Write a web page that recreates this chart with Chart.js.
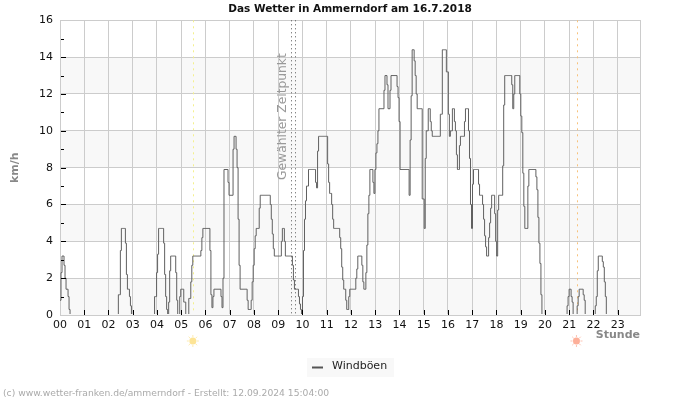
<!DOCTYPE html>
<html>
<head>
<meta charset="utf-8">
<title>Das Wetter in Ammerndorf</title>
<script src="https://cdn.jsdelivr.net/npm/chart.js@4"></script>
<style>
  html, body { margin: 0; padding: 0; background: #fff; }
  canvas { display: block; }
</style>
</head>
<body>
<canvas id="chart" width="700" height="400"></canvas>
<script>
// Gust values in km/h, one row per hour, about 2.5 minute steps
const hour00 = [0.8,2.3,3.2,3.2,2.7,2,1.4,1.4,1,0.3,0,0,0,0,0,0,0,0,0,0,0,0,0,0];
const hour01 = [0,0,0,0,0,0,0,0,0,0,0,0,0,0,0,0,0,0,0,0,0,0,0,0];
const hour02 = [0,0,0,0,0,0,0,0,0,0,1.1,1.1,3.5,4.7,4.7,4.7,4.7,3.9,2.2,1.4,1.4,1,0.5,0];
const hour03 = [0,0,0,0,0,0,0,0,0,0,0,0,0,0,0,0,0,0,0,0,0,0,1,1];
const hour04 = [2.3,3.3,4.7,4.7,4.7,4.7,4.7,3.9,2.2,1,0.3,0,0.7,2.4,3.2,3.2,3.2,3.2,3.2,2.3,0.8,0,0,1];
const hour05 = [1.4,1.4,1.4,0.7,0.7,0,0,0,0.9,0.9,1.8,2.7,3.2,3.2,3.2,3.2,3.2,3.2,3.2,3.2,3.5,4.2,4.7,4.7];
const hour06 = [4.7,4.7,4.7,4.7,4.7,3.5,1.1,0.4,1,1.4,1.4,1.4,1.4,1.4,1.4,1.4,1,0.4,2,7.9,7.9,7.9,7.9,7.2];
const hour07 = [6.5,6.5,6.5,6.5,9,9.7,9.7,9,8,5.2,2.7,1.4,1.4,1.4,1.4,1.4,1.4,1.4,0.8,0.3,0.3,0.3,0.8,1.8];
const hour08 = [2.7,3.6,4.3,4.7,4.7,4.7,5.8,6.5,6.5,6.5,6.5,6.5,6.5,6.5,6.5,6.5,6.5,6,5.2,4.4,3.6,3.2,3.2,3.2];
const hour09 = [3.2,3.2,3.2,3.2,4,4.7,4.7,4,3.2,3.2,3.2,3.2,3.2,3.2,3.2,2.7,1.9,1.4,1.4,1.4,1.4,1,0.6,0.3];
const hour10 = [0,1,3.5,5.2,6.2,7,7,7.9,7.9,7.9,7.9,7.9,7.9,7.9,7.2,6.9,8.9,9.7,9.7,9.7,9.7,9.7,9.7,9.7];
const hour11 = [9.7,9.7,8.2,7.2,6.6,6.6,6,5.2,4.7,4.7,4.7,4.7,4.7,4.7,4.2,3.6,2.6,1.9,1.4,1.4,0.8,0.3,0.3,1];
const hour12 = [1.4,1.4,1.4,1.4,1.4,1.4,2,2.5,3.2,3.2,3.2,3.2,2.7,1.8,1.4,1.4,2.3,3.8,5.5,6.5,7.9,7.9,7.9,7.2];
const hour13 = [6.6,7.9,8.8,9.3,10,11.2,11.2,11.2,11.2,11.2,12.2,13,13,12.5,11.2,11.2,12.2,13,13,13,13,13,13,12.4];
const hour14 = [11.8,10.5,7.9,7.9,7.9,7.9,7.9,7.9,7.9,7.9,7.9,6.5,9.5,11.9,14.4,14.4,13.8,13,12,11.2,11.2,11.2,11.2,11.2];
const hour15 = [6.3,6.3,4.7,8.5,10,10,11.2,11.2,10.5,10,9.7,9.7,9.7,9.7,9.7,9.7,9.7,9.7,10.9,10.9,14.4,14.4,14.4,14.4];
const hour16 = [13.2,13.2,10.9,9.7,10,10,11.2,11.2,10.5,10,8.7,7.9,7.9,9.2,9.7,9.7,9.7,9.7,10.5,11.2,11.2,11.2,10,8.5];
const hour17 = [6,4.7,7.1,7.9,7.9,7.9,7.9,7.9,7.1,6.5,6.5,6.5,6,5.2,4.3,3.7,3.2,3.2,4.2,5,5.8,6.5,6.5,6.5];
const hour18 = [5.5,4,3.2,5.7,6.5,6.5,6.5,6.5,8.1,11.4,13,13,13,13,13,13,13,12.5,11.2,12,13,13,13,13];
const hour19 = [13,12,10.8,9.9,7.7,5.9,4.7,4.7,4.7,7,7.9,7.9,7.9,7.9,7.9,7.9,7.9,7.5,6.8,5.3,3.9,2.8,1.1,0];
const hour20 = [0,0,0,0,0,0,0,0,0,0,0,0,0,0,0,0,0,0,0,0,0,0,0,0];
const hour21 = [0.5,1,1.4,1.4,1,0.7,0,0,0,0,0.5,1,1.4,1.4,1.4,1.4,1.1,0.8,0,0,0,0,0,0];
const hour22 = [0,0,0,0,0.5,1,2.4,3.2,3.2,3.2,3.2,2.9,2.6,1.8,1,0,0,0,0,0,0,0,0,0];
const hour23 = [0,0,0,0,0,0,0,0,0,0,0,0,0,0,0,0,0,0,0,0,0,0,0,0];

const gusts = [
  hour00, hour01, hour02, hour03, hour04, hour05, hour06, hour07,
  hour08, hour09, hour10, hour11, hour12, hour13, hour14, hour15,
  hour16, hour17, hour18, hour19, hour20, hour21, hour22, hour23
].flat();

const hourTicks = [0, 1, 2, 3, 4, 5, 6, 7, 8, 9, 10, 11, 12, 13, 14, 15, 16, 17, 18, 19, 20, 21, 22, 23];
const yMinorTicks = [1, 3, 5, 7, 9, 11, 13, 15];
const bandStarts = [0, 4, 8, 12];
const sunrise = 5.5;
const sunset = 21.32;
const selectedTimes = [9.53, 9.68];
const sampleHours = 1 / 24.1;
const lastHour = 23.92;

const chartTitle = 'Das Wetter in Ammerndorf am 16.7.2018';
const seriesName = 'Windböen';
const footer = '(c) www.wetter-franken.de/ammerndorf - Erstellt: 12.09.2024 15:04:00';

const FONT = '"DejaVu Sans", sans-serif';
const GRID = '#cccccc';

// x value of each sample in hours
const points = gusts.map((v, i) => ({ x: i * sampleHours, y: v }));

function verticalLine(ctx, chart, x, color, dash) {
  const area = chart.chartArea;
  ctx.save();
  ctx.strokeStyle = color;
  ctx.lineWidth = 1;
  ctx.setLineDash(dash);
  ctx.beginPath();
  ctx.moveTo(Math.round(x) + 0.5, area.top);
  ctx.lineTo(Math.round(x) + 0.5, area.bottom);
  ctx.stroke();
  ctx.restore();
}

function drawSun(ctx, x, y, color) {
  ctx.save();
  ctx.globalAlpha = 0.6;
  ctx.fillStyle = color;
  ctx.strokeStyle = color;
  ctx.beginPath();
  ctx.arc(x, y, 3.5, 0, Math.PI * 2);
  ctx.fill();
  ctx.lineWidth = 1;
  ctx.globalAlpha = 0.45;
  for (let i = 0; i < 8; i++) {
    const a = (i * Math.PI) / 4;
    ctx.beginPath();
    ctx.moveTo(x + Math.cos(a) * 4, y + Math.sin(a) * 4);
    ctx.lineTo(x + Math.cos(a) * 6, y + Math.sin(a) * 6);
    ctx.stroke();
  }
  ctx.restore();
}

// Bands behind the grid
const bandsPlugin = {
  id: 'bands',
  beforeDraw(chart) {
    const { ctx, chartArea: area, scales: { y } } = chart;
    ctx.save();
    ctx.fillStyle = '#f8f8f8';
    bandStarts.forEach((v) => {
      const top = y.getPixelForValue(v + 2);
      ctx.fillRect(area.left, top, area.width, y.getPixelForValue(v) - top);
    });
    ctx.restore();
  }
};

// Marker lines, ticks and the text the library has no slot for
const extrasPlugin = {
  id: 'extras',
  beforeDatasetsDraw(chart) {
    const { ctx, scales: { x } } = chart;
    verticalLine(ctx, chart, x.getPixelForValue(sunrise), '#f4f08c', [2, 4]);
    verticalLine(ctx, chart, x.getPixelForValue(sunset), '#f7c27c', [2, 4]);
  },
  afterDatasetsDraw(chart) {
    const { ctx, chartArea: area, scales: { x, y } } = chart;

    // zero values must not show as a dark line on the axis
    const base = Math.round(area.bottom);
    ctx.save();
    ctx.fillStyle = '#f8f8f8';
    ctx.fillRect(area.left + 1, base - 1, area.width - 1, 1);
    ctx.fillStyle = GRID;
    ctx.fillRect(area.left, base, area.width + 1, 1);

    selectedTimes.forEach((t) => {
      verticalLine(ctx, chart, x.getPixelForValue(t), '#555555', [1, 3]);
    });

    // inner tick marks
    ctx.strokeStyle = '#000000';
    ctx.lineWidth = 1;
    ctx.beginPath();
    hourTicks.slice(1).forEach((h) => {
      const px = Math.round(x.getPixelForValue(h)) + 0.5;
      ctx.moveTo(px, area.bottom);
      ctx.lineTo(px, area.bottom - 5);
    });
    for (let v = 2; v < 16; v += 2) {
      const py = Math.round(y.getPixelForValue(v)) + 0.5;
      ctx.moveTo(area.left + 1, py);
      ctx.lineTo(area.left + 6, py);
    }
    yMinorTicks.forEach((v) => {
      const py = Math.round(y.getPixelForValue(v)) + 0.5;
      ctx.moveTo(area.left + 1, py);
      ctx.lineTo(area.left + 4, py);
    });
    ctx.stroke();

    // rotated label next to the selected time
    ctx.fillStyle = '#999999';
    ctx.font = '12.3px ' + FONT;
    ctx.textAlign = 'left';
    ctx.textBaseline = 'middle';
    ctx.translate(x.getPixelForValue(selectedTimes[0]) - 8, 180);
    ctx.rotate(-Math.PI / 2);
    ctx.fillText('Gewählter Zeitpunkt', 0, 0);
    ctx.restore();

    drawSun(ctx, x.getPixelForValue(sunrise) - 0.5, 341, '#fbd24e');
    drawSun(ctx, x.getPixelForValue(sunset) - 0.5, 341, '#fb7a55');

    ctx.save();
    ctx.fillStyle = '#888888';
    ctx.font = 'bold 11px ' + FONT;
    ctx.textAlign = 'right';
    ctx.textBaseline = 'middle';
    ctx.fillText('Stunde', area.right, 335);

    // legend
    ctx.fillStyle = '#f8f8f8';
    ctx.fillRect(307, 358, 87, 19);
    ctx.strokeStyle = '#555555';
    ctx.lineWidth = 2;
    ctx.beginPath();
    ctx.moveTo(312, 367.5);
    ctx.lineTo(323, 367.5);
    ctx.stroke();
    ctx.fillStyle = '#222222';
    ctx.font = '11px ' + FONT;
    ctx.textAlign = 'left';
    ctx.fillText(seriesName, 332, 366.5);

    ctx.fillStyle = '#aaaaaa';
    ctx.font = '9.2px ' + FONT;
    ctx.fillText(footer, 3, 393.5);
    ctx.restore();
  }
};

new Chart(document.getElementById('chart'), {
  type: 'line',
  data: {
    datasets: [{
      label: seriesName,
      data: points,
      borderColor: '#606060',
      borderWidth: 1,
      pointRadius: 0,
      stepped: true,
      fill: false
    }]
  },
  options: {
    responsive: false,
    animation: false,
    parsing: false,
    plugins: {
      legend: { display: false },
      tooltip: { enabled: false },
      title: {
        display: true,
        text: chartTitle,
        color: '#111111',
        font: { family: FONT, size: 10.5, weight: 'bold' },
        padding: { top: 3, bottom: 4.7 }
      }
    },
    scales: {
      x: {
        type: 'linear',
        min: 0,
        max: lastHour,
        afterFit(scale) { scale.height = 85; },
        afterBuildTicks(scale) {
          scale.ticks = hourTicks.map((h) => ({ value: h }));
        },
        grid: { color: GRID, drawTicks: false },
        border: { color: GRID },
        ticks: {
          autoSkip: false,
          maxRotation: 0,
          padding: 4,
          color: '#111111',
          font: { family: FONT, size: 11 },
          callback: (v) => String(v).padStart(2, '0')
        }
      },
      y: {
        min: 0,
        max: 16,
        afterFit(scale) { scale.width = 60; },
        grid: { color: GRID, drawTicks: false },
        border: { color: GRID },
        title: {
          display: true,
          text: 'km/h',
          color: '#888888',
          font: { family: FONT, size: 11, weight: 'bold' },
          padding: { top: 9, bottom: 0 }
        },
        ticks: {
          stepSize: 2,
          padding: 7,
          color: '#111111',
          font: { family: FONT, size: 11 }
        }
      },
      // empty axis, keeps the right margin so the title stays centred on the page
      yRight: {
        position: 'right',
        afterFit(scale) { scale.width = 60; },
        grid: { display: false },
        border: { color: GRID },
        ticks: { display: false }
      }
    }
  },
  plugins: [bandsPlugin, extrasPlugin]
});
</script>
</body>
</html>
